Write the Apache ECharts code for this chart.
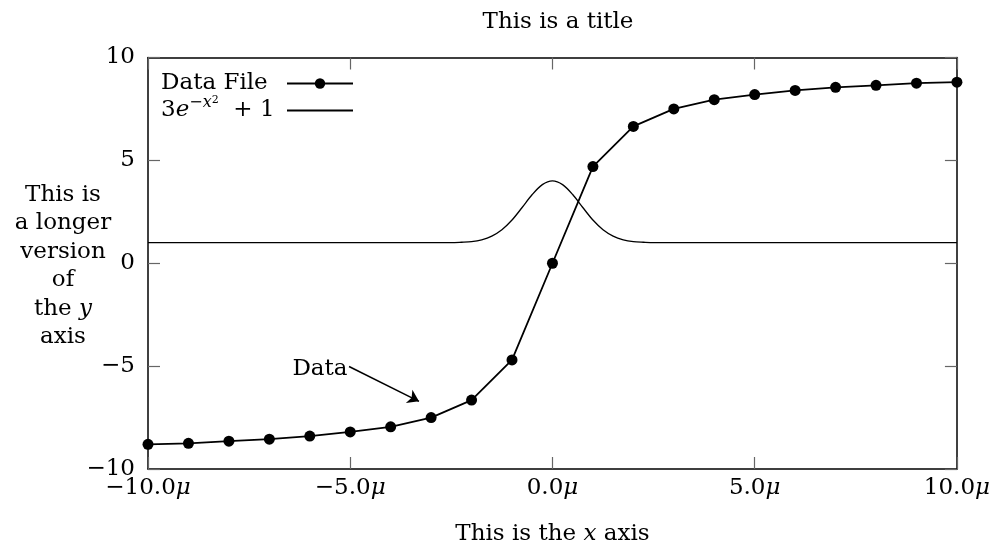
<!DOCTYPE html>
<html>
<head>
<meta charset="utf-8">
<script src="https://cdn.jsdelivr.net/npm/echarts@6/dist/echarts.min.js"></script>
<style>html,body{margin:0;padding:0;background:#fff}#c{width:993px;height:551px}</style>
</head>
<body>
<div id="c"></div>
<script>
// Data
var dataX = [-10,-9,-8,-7,-6,-5,-4,-3,-2,-1,0,1,2,3,4,5,6,7,8,9,10];
var dataY = [-8.8,-8.75,-8.65,-8.55,-8.4,-8.2,-7.95,-7.5,-6.65,-4.7,0,4.7,6.65,7.5,7.95,8.2,8.4,8.55,8.65,8.75,8.8];
var gaussX = [-10,-2.5,-2.25,-2,-1.75,-1.5,-1.25,-1,-0.75,-0.5,-0.25,0,0.25,0.5,0.75,1,1.25,1.5,1.75,2,2.25,2.5,10];
var gaussY = [1,1,1.02,1.05,1.14,1.32,1.63,2.1,2.71,3.34,3.82,4,3.82,3.34,2.71,2.1,1.63,1.32,1.14,1.05,1.02,1,1];
var arrowFrom = [-5.03,-5.02];
var arrowTo = [-3.3,-6.71];

var FONT = 'DejaVu Serif';
var FS = 23;

function pairs(xs, ys){ return xs.map(function(x,i){return [x, ys[i]];}); }
function minus(v){ return v < 0 ? '\u2212' + Math.abs(v) : String(v); }

var chart = echarts.init(document.getElementById('c'), null, {renderer:'canvas'});
var axisCommon = {
  type:'value', min:-10, max:10, interval:5,
  axisLine:{show:true, onZero:false, lineStyle:{color:'#000', width:1.5}},
  axisTick:{show:true, inside:true, length:12, lineStyle:{color:'#666', width:1.2}},
  splitLine:{show:false}
};
var option = {
  animation:false,
  backgroundColor:'#fff',
  textStyle:{fontFamily:FONT},
  title:{
    text:'This is a title', left:553, top:6, textAlign:'center',
    textStyle:{fontFamily:FONT, fontSize:FS, fontWeight:'normal', color:'#000'}
  },
  grid:{left:148, right:33.5, top:57.5, bottom:79.5, containLabel:false},
  legend:{
    orient:'vertical', left:156, top:67, align:'right',
    itemWidth:66, itemHeight:13, itemGap:0,
    data:[
      {name:'Data File'},
      {name:'gauss', itemStyle:{color:'rgba(0,0,0,0)', borderWidth:0, opacity:0}}
    ],
    formatter:function(n){
      if(n==='gauss') return '{n|3}{i|e}{s|\u2212}{si|x}{ss|2}{n|  + 1}';
      return '{n|Data File}';
    },
    textStyle:{
      fontFamily:FONT, fontSize:FS, color:'#000', width:115, align:'left', padding:[0,6,0,0],
      rich:{
        n:{fontFamily:FONT, fontSize:FS, color:'#000', align:'left'},
        i:{fontFamily:FONT, fontSize:FS, fontStyle:'italic', color:'#000', align:'left'},
        s:{fontFamily:FONT, fontSize:16, color:'#000', verticalAlign:'top', padding:[0,0,12,0], align:'left'},
        si:{fontFamily:FONT, fontSize:16, fontStyle:'italic', color:'#000', verticalAlign:'top', padding:[0,0,12,0], align:'left'},
        ss:{fontFamily:FONT, fontSize:11, color:'#000', verticalAlign:'top', padding:[0,0,20,0], align:'left'}
      }
    }
  },
  xAxis:[
    Object.assign({}, axisCommon, {
      position:'bottom',
      name:'This is the {i|x} axis', nameLocation:'middle', nameGap:54,
      nameTextStyle:{fontFamily:FONT, fontSize:FS, color:'#000',
        rich:{i:{fontFamily:FONT, fontSize:FS, fontStyle:'italic', color:'#000'}}},
      axisLabel:{
        margin:8, color:'#000', fontFamily:FONT, fontSize:FS,
        formatter:function(v){ return (v<0?'\u2212':'') + Math.abs(v).toFixed(1) + '{i|\u03bc}'; },
        rich:{i:{fontFamily:FONT, fontSize:FS, fontStyle:'italic', color:'#000'}}
      }
    }),
    Object.assign({}, axisCommon, {position:'top', axisLabel:{show:false}})
  ],
  yAxis:[
    Object.assign({}, axisCommon, {
      position:'left',
      axisLabel:{margin:13, color:'#000', fontFamily:FONT, fontSize:FS, formatter:function(v){return minus(v);}}
    }),
    Object.assign({}, axisCommon, {position:'right', axisLabel:{show:false}})
  ],
  graphic:[{
    type:'text', z:10,
    style:{
      x:63, y:266, text:'This is\na longer\nversion\nof\nthe {i|y}\naxis',
      textAlign:'center', textVerticalAlign:'middle',
      fontFamily:FONT, fontSize:FS, lineHeight:28.5, fill:'#000',
      rich:{i:{fontFamily:FONT, fontSize:FS, fontStyle:'italic', fill:'#000', lineHeight:28.5}}
    }
  }],
  series:[
    {
      name:'Data File', type:'line', xAxisIndex:0, yAxisIndex:0,
      data:pairs(dataX, dataY),
      symbol:'circle', symbolSize:11, showAllSymbol:true,
      lineStyle:{color:'#000', width:1.8}, itemStyle:{color:'#000'},
      z:3,
      markLine:{
        silent:true, animation:false,
        symbol:['none','arrow'], symbolSize:11,
        lineStyle:{color:'#000', width:1.5, type:'solid'},
        itemStyle:{color:'#000'},
        label:{show:false},
        data:[[{coord:arrowFrom}, {coord:arrowTo}]]
      },
      markPoint:{
        silent:true, animation:false,
        symbol:'circle', symbolSize:1, itemStyle:{color:'rgba(0,0,0,0)'},
        label:{show:true, position:'left', distance:1, formatter:'Data',
          fontFamily:FONT, fontSize:FS, color:'#000', offset:[0,2]},
        data:[{coord:arrowFrom}]
      }
    },
    {
      name:'gauss', type:'line', xAxisIndex:0, yAxisIndex:0,
      data:pairs(gaussX, gaussY), smooth:0.3,
      symbol:'none', lineStyle:{color:'#000', width:1.3}, itemStyle:{color:'#000'},
      z:2
    }
  ]
};
chart.setOption(option);
</script>
</body>
</html>
